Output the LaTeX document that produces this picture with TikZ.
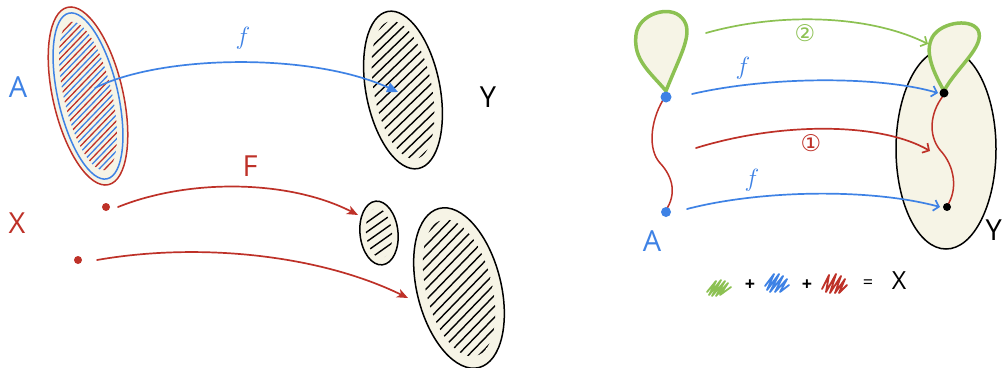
\documentclass[tikz,border=0pt]{standalone}
\usepackage{fontspec}
\setmainfont{Open Sans}
\newfontfamily\djv{DejaVu Sans}
\usetikzlibrary{arrows.meta}
\definecolor{cream}{HTML}{F6F4E6}
\definecolor{myblue}{HTML}{3E82E5}
\definecolor{myred}{HTML}{BE3128}
\definecolor{mygreen}{HTML}{8CC152}
\tikzset{
  lab/.style={inner sep=0pt, font=\fontsize{29}{29}\selectfont},
  setline/.style={draw=black, line width=1.5pt, fill=cream},
  hatch/.style={line width=1.4pt, black},
  curvearrow/.style={line width=1.7pt},
  leftred/.style={curvearrow, myred, -{Stealth[length=11pt,width=9pt,inset=3pt]}},
  rightbarb/.style={curvearrow, -{Straight Barb[length=5pt,width=11pt]}},
  greenloop/.style={draw=mygreen, line width=3.5pt, fill=cream},
  dotstyle/.style={circle, inner sep=0pt, minimum size=#1},
  scrib/.style={line width=1.8pt}
}
\begin{document}
\begin{tikzpicture}[x=1pt,y=-1pt, line cap=round, line join=round]
\useasboundingbox (0,0) rectangle (1003,367);
\fill[white] (0,0) rectangle (1003,367);

% ===================== LEFT PART =====================
% Ellipse A (red outer, blue inner, hatched red/blue)
\begin{scope}[shift={(88,96)}, rotate=13]
  \draw[draw=myred, line width=1.5pt, fill=cream] (0,0) ellipse [x radius=35, y radius=91];
  \draw[draw=myblue, line width=1.5pt] (0,0) ellipse [x radius=30, y radius=85];
  \begin{scope}
    \clip (0,0) ellipse [x radius=24, y radius=76];
    \foreach \k in {-120,-110,...,120}
      \draw[myblue, line width=1.3pt] (-40,\k+26) -- (40,\k-26);
    \foreach \k in {-115,-105,...,125}
      \draw[myred, line width=1.3pt] (-40,\k+26) -- (40,\k-26);
  \end{scope}
\end{scope}
\coordinate (Ain) at (95,88);

% Ellipse Y (left, top)
\begin{scope}[shift={(403,90)}, rotate=11]
  \draw[setline] (0,0) ellipse [x radius=37, y radius=80];
  \begin{scope}
    \clip (0,0) ellipse [x radius=29, y radius=70];
    \foreach \k in {-117,-108,...,117}
      \draw[hatch] (-40,\k+26) -- (40,\k-26);
  \end{scope}
\end{scope}
\coordinate (Yin) at (398,92);

% small ellipse
\begin{scope}[shift={(379,233)}, rotate=6]
  \draw[setline] (0,0) ellipse [x radius=19, y radius=32];
  \begin{scope}
    \clip (0,0) ellipse [x radius=13, y radius=25];
    \foreach \k in {-54,-45,...,54}
      \draw[hatch] (-25,\k+14) -- (25,\k-14);
  \end{scope}
\end{scope}
\coordinate (smallin) at (358,215);

% big lower ellipse
\begin{scope}[shift={(459,288)}, rotate=14]
  \draw[setline] (0,0) ellipse [x radius=42, y radius=82];
  \begin{scope}
    \clip (0,0) ellipse [x radius=33, y radius=70];
    \foreach \k in {-117,-108,...,117}
      \draw[hatch] (-45,\k+28) -- (45,\k-28);
  \end{scope}
\end{scope}
\coordinate (bigin) at (408,298);

% labels
\node[lab, text=myblue] (labA) at (18,87) {A};
\node[lab, text=black] (labY) at (488,97) {Y};
\node[lab, text=myred] (labX) at (17,223) {X};
\node[lab, text=myred] (labF) at (250,166) {F};
\node[inner sep=0pt, text=myblue, font=\fontsize{28}{28}\selectfont] (labf) at (243,38) {$f$};

% red points
\node[dotstyle=8pt, fill=myred] (p1) at (106,207) {};
\node[dotstyle=8pt, fill=myred] (p2) at (78,260) {};

% arrows
\draw[curvearrow, myblue, -{Triangle[length=11pt,width=10pt]}]
  (Ain) .. controls (160,55) and (310,52) .. (Yin);
\draw[leftred] ([xshift=12pt]p1.center) .. controls (190,178) and (290,180) .. (smallin);
\draw[leftred] ([xshift=19pt]p2.center) .. controls (200,242) and (320,255) .. (bigin);

% ===================== RIGHT PART =====================
% Y ellipse
\draw[setline] (946,149) ellipse [x radius=50, y radius=100];
\node[lab, text=black, anchor=east] (labY2) at (1002,230) {Y};

% green loops
\draw[greenloop] (666,91) .. controls (650,72) and (633,60) .. (636,35)
   .. controls (638,14) and (670,4) .. (682,18)
   .. controls (695,32) and (680,55) .. (666,91);
\draw[greenloop] (944,91) .. controls (935,75) and (925,55) .. (931,40)
   .. controls (937,23) and (970,17) .. (978,30)
   .. controls (986,46) and (956,68) .. (944,91);

% red wavy lines
\draw[myred, line width=1.5pt] (663,100) .. controls (650,122) and (648,150) .. (660,163)
   .. controls (674,178) and (676,195) .. (666,210);
\draw[myred, line width=1.5pt] (943,96) .. controls (930,113) and (928,135) .. (940,150)
   .. controls (955,166) and (958,190) .. (947,206);

% dots
\node[dotstyle=11pt, fill=myblue] (a1) at (666,97) {};
\node[dotstyle=10pt, fill=myblue] (a2) at (666,212) {};
\node[dotstyle=9pt, fill=black] (b1) at (944,93) {};
\node[dotstyle=8pt, fill=black] (b2) at (947,207) {};
\node[lab, text=myblue] (labA2) at (652,241) {A};

% right arrows
\coordinate (g0) at (706,33);
\coordinate (g1) at (928,44);
\draw[rightbarb, mygreen] (g0) .. controls (780,12) and (870,15) .. (g1);
\draw[rightbarb, myblue] (692,94) .. controls (770,76) and (880,76) .. ([xshift=-6pt]b1.center);
\coordinate (r1) at (930,151);
\draw[rightbarb, myred] (696,148) .. controls (780,122) and (880,122) .. (r1);
\draw[rightbarb, myblue] (687,209) .. controls (760,190) and (870,188) .. ([xshift=-7pt]b2.center);

\node[inner sep=0pt, text=mygreen, font=\djv\fontsize{23}{23}\selectfont] (n2) at (805,33) {②};
\node[inner sep=0pt, text=myred, font=\djv\fontsize{23}{23}\selectfont] (n1) at (811,143) {①};
\node[inner sep=0pt, text=myblue, font=\fontsize{24}{24}\selectfont] (f2) at (743,68) {$f$};
\node[inner sep=0pt, text=myblue, font=\fontsize{24}{24}\selectfont] (f3) at (752,180) {$f$};

% legend
\draw[scrib, mygreen] (707,292) -- (716,281) -- (709,295) -- (721,280) -- (712,296) -- (725,281) -- (716,296) -- (728,283) -- (720,295) -- (731,287);
\draw[scrib, myblue] (765,286) -- (774,274) -- (767,290) -- (779,274) -- (770,292) -- (783,276) -- (775,292) -- (787,279) -- (780,292) -- (789,285);
\draw[scrib, myred] (822,289) -- (829,275) -- (826,292) -- (836,274) -- (830,293) -- (841,276) -- (835,293) -- (845,279) -- (839,293) -- (847,285);
\node[inner sep=0pt, font=\bfseries\fontsize{18}{18}\selectfont] (plus1) at (750,285) {+};
\node[inner sep=0pt, font=\bfseries\fontsize{18}{18}\selectfont] (plus2) at (807,285) {+};
\node[inner sep=0pt, font=\fontsize{18}{18}\selectfont] (eq) at (868,284) {=};
\node[inner sep=0pt, font=\fontsize{25}{25}\selectfont] (labX2) at (899,281) {X};
\end{tikzpicture}
\end{document}
